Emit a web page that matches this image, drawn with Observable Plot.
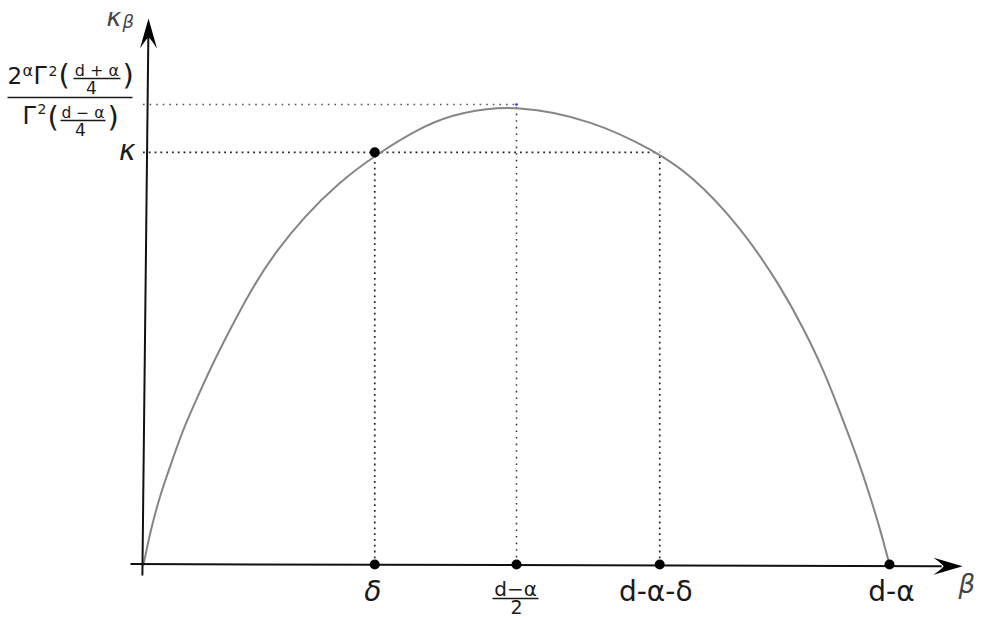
<!DOCTYPE html>
<html><head><meta charset="utf-8">
<script src="https://cdn.jsdelivr.net/npm/d3@7"></script>
<script src="https://cdn.jsdelivr.net/npm/@observablehq/plot@0.6"></script>
<style>
html,body{margin:0;padding:0;background:#fff;}
#chart svg{display:block;}
</style></head><body><div id="chart"></div>
<script>
// ---- data (x: β with d-α = 10, y: κ_β with peak = 1) ----
const curveBeta  = [0, 0.094, 0.228, 0.385, 0.540, 0.741, 0.942, 1.48, 1.79, 2.15, 2.60, 3.13, 3.80, 4.25, 5.00, 6.03, 6.84, 7.33, 8.00, 8.54, 8.851, 9.119, 9.343, 9.567, 9.745, 9.879, 10];
const curveKappa = [0, 0.074, 0.154, 0.226, 0.298, 0.370, 0.443, 0.610, 0.683, 0.755, 0.828, 0.893, 0.958, 0.983, 1.000, 0.965, 0.900, 0.849, 0.735, 0.605, 0.512, 0.422, 0.328, 0.233, 0.146, 0.074, 0];
const delta = 3.1, midBeta = 5, dAlphaDelta = 6.92, dAlpha = 10;
const kappa = 0.896, peak = 1;
const axisTicks = [delta, midBeta, dAlphaDelta, dAlpha];
const xAxisBeta = [-0.174, 10.7], xAxisKappa = [0.001, -0.004], xArrowTip = [10.98, -0.004];
const yAxisBeta = [-0.015, 0.065], yAxisKappa = [-0.024, 1.15], yArrowTip = [0.067, 1.187];
const labelKappaBeta = ["κ", "β"];
const labelKappa = "κ";
const labelBeta = "β";
const tickLabels = ["δ", "d-α-δ", "d-α"];
const midLabel = ["d−α", "2"];
const numLabel = ["2", "α", "Γ", "2", "(", "d + α", "4", ")"];
const denLabel = ["Γ", "2", "(", "d − α", "4", ")"];

const curve = curveBeta.map((b, i) => ({b, k: curveKappa[i]}));

// symbols
const arrowRight = {draw(c){ c.moveTo(0,0); c.lineTo(-29,-8.5); c.quadraticCurveTo(-20,-2,-19,0); c.quadraticCurveTo(-20,2,-29,8.5); c.closePath(); }};
const arrowUp = {draw(c){ c.moveTo(0,0); c.lineTo(8.5,30); c.quadraticCurveTo(2,20,0,19); c.quadraticCurveTo(-2,20,-8.5,30); c.closePath(); }};
const bar = (w) => ({draw(c){ c.moveTo(-w/2,0); c.lineTo(w/2,0); }});

const FONT = "DejaVu Sans";
const T = (str, bx, ky, o) => Plot.text([str], {x: () => bx, y: () => ky, text: d => d, textAnchor: "start", lineAnchor: "bottom", fontFamily: FONT, fill: "#1a1a1a", ...o});
const B = (w, bx, ky, o) => Plot.dot([0], {x: () => bx, y: () => ky, symbol: bar(w), fill: "none", stroke: "#1a1a1a", strokeWidth: 1.4, ...o});

const chart = Plot.plot({
  width: 983, height: 618,
  x: {domain: [0, 10], range: [143, 889], axis: null},
  y: {domain: [0, 1], range: [564, 104], axis: null},
  marks: [
    // dotted guides
    Plot.ruleY([peak], {x1: 0, x2: midBeta, stroke: "#555", strokeWidth: 1.5, strokeDasharray: "1.6,5"}),
    Plot.ruleY([kappa], {x1: 0, x2: dAlphaDelta, stroke: "#222", strokeWidth: 1.7, strokeDasharray: "1.8,4"}),
    Plot.ruleX([delta, dAlphaDelta], {y1: 0, y2: kappa, stroke: "#222", strokeWidth: 1.7, strokeDasharray: "1.8,4"}),
    Plot.ruleX([midBeta], {y1: 0, y2: peak, stroke: "#333", strokeWidth: 1.5, strokeDasharray: "1.6,5"}),
    // curve
    Plot.line(curve, {x: "b", y: "k", stroke: "#858585", strokeWidth: 2, curve: "basis"}),
    // axes
    Plot.link([0], {x1: () => xAxisBeta[0], y1: () => xAxisKappa[0], x2: () => xAxisBeta[1], y2: () => xAxisKappa[1], stroke: "#111", strokeWidth: 2}),
    Plot.link([0], {x1: () => yAxisBeta[0], y1: () => yAxisKappa[0], x2: () => yAxisBeta[1], y2: () => yAxisKappa[1], stroke: "#111", strokeWidth: 2}),
    Plot.dot([xArrowTip], {x: d => d[0], y: d => d[1], symbol: arrowRight, fill: "#000", stroke: "none"}),
    Plot.dot([yArrowTip], {x: d => d[0], y: d => d[1], symbol: arrowUp, fill: "#000", stroke: "none"}),
    // points
    Plot.dot(axisTicks, {x: d => d, y: () => 0, r: 5, fill: "#000", stroke: "none"}),
    Plot.dot([delta], {x: d => d, y: () => kappa, r: 5, fill: "#000", stroke: "none"}),
    Plot.dot([midBeta], {x: d => d, y: () => peak, r: 1.3, fill: "#22f", stroke: "none"}),
    // x tick labels
    T(tickLabels[0], delta, 0, {textAnchor: "middle", dx: -2, dy: 36, fontSize: 28, fontStyle: "italic"}),
    T(tickLabels[1], dAlphaDelta, 0, {textAnchor: "middle", dx: -4, dy: 36, fontSize: 28}),
    T(tickLabels[2], dAlpha, 0, {textAnchor: "middle", dx: 2, dy: 36, fontSize: 28}),
    T(midLabel[0], midBeta, 0, {textAnchor: "middle", dx: -1, dy: 31, fontSize: 20}),
    B(46, midBeta, 0, {dx: -1, dy: 34}),
    T(midLabel[1], midBeta, 0, {textAnchor: "middle", dx: 0, dy: 49, fontSize: 19}),
    T(labelBeta, dAlpha, 0, {dx: 69, dy: 28, fontSize: 26, fontStyle: "italic", fill: "#444"}),
    // y labels
    T(labelKappaBeta[0], 0, peak, {dx: -37, dy: -79, fontSize: 25, fontStyle: "italic", fill: "#444"}),
    T(labelKappaBeta[1], 0, peak, {dx: -21, dy: -77, fontSize: 18, fontStyle: "italic", fill: "#444"}),
    T(labelKappa, 0, kappa, {textAnchor: "end", dx: -8, dy: 8, fontSize: 28, fontStyle: "italic"}),
    // fraction: numerator
    T(numLabel[0], 0, peak, {dx: -136, dy: -21, fontSize: 23}),
    T(numLabel[1], 0, peak, {dx: -121, dy: -29, fontSize: 16}),
    T(numLabel[2], 0, peak, {dx: -110, dy: -21, fontSize: 24}),
    T(numLabel[3], 0, peak, {dx: -95, dy: -29, fontSize: 14}),
    T(numLabel[4], 0, peak, {dx: -85, dy: -20, fontSize: 29}),
    T(numLabel[5], 0, peak, {textAnchor: "middle", dx: -46.5, dy: -29, fontSize: 16}),
    B(47, 0, peak, {dx: -46.5, dy: -26}),
    T(numLabel[6], 0, peak, {textAnchor: "middle", dx: -52, dy: -11, fontSize: 17}),
    T(numLabel[7], 0, peak, {dx: -21, dy: -20, fontSize: 29}),
    B(125, 0, peak, {dx: -73.5, dy: -7, strokeWidth: 1.6}),
    // fraction: denominator
    T(denLabel[0], 0, peak, {dx: -121, dy: 19, fontSize: 24}),
    T(denLabel[1], 0, peak, {dx: -106, dy: 9, fontSize: 14}),
    T(denLabel[2], 0, peak, {dx: -96, dy: 22, fontSize: 29}),
    T(denLabel[3], 0, peak, {textAnchor: "middle", dx: -60.5, dy: 13, fontSize: 15.5}),
    B(45, 0, peak, {dx: -60.5, dy: 16}),
    T(denLabel[4], 0, peak, {textAnchor: "middle", dx: -63, dy: 31, fontSize: 17}),
    T(denLabel[5], 0, peak, {dx: -36, dy: 22, fontSize: 29})
  ]
});
document.getElementById("chart").appendChild(chart);
</script></body></html>
